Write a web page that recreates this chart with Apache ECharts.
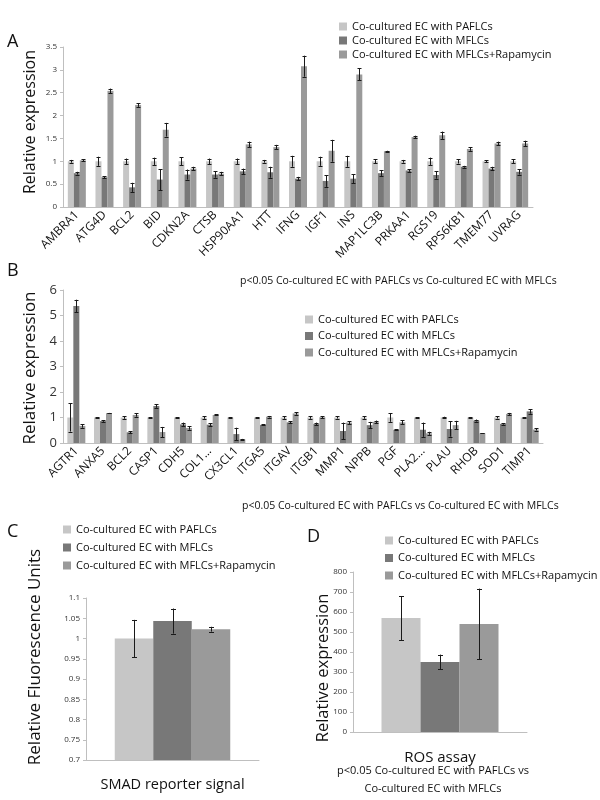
<!DOCTYPE html>
<html>
<head>
<meta charset="utf-8">
<script src="https://cdn.jsdelivr.net/npm/echarts@6/dist/echarts.min.js"></script>
<style>html,body{margin:0;padding:0;background:#fff}#c{width:600px;height:800px}</style>
</head>
<body>
<div id="c"></div>
<script>
// ---------- data ----------
const seriesNames = ['Co-cultured EC with PAFLCs', 'Co-cultured EC with MFLCs', 'Co-cultured EC with MFLCs+Rapamycin'];

// Panel A
const catsA = ['AMBRA1','ATG4D','BCL2','BID','CDKN2A','CTSB','HSP90AA1','HTT','IFNG','IGF1','INS','MAP1LC3B','PRKAA1','RGS19','RPS6KB1','TMEM77','UVRAG'];
const pafA    = [1,1,1,1,1,1,1,1,1,1,1,1,1,1,1,1,1];
const pafAErr = [0.03,0.1,0.06,0.08,0.09,0.06,0.06,0.03,0.12,0.1,0.12,0.04,0.03,0.08,0.05,0.02,0.04];
const mflA    = [0.74,0.65,0.43,0.6,0.71,0.71,0.78,0.76,0.62,0.57,0.62,0.74,0.8,0.7,0.88,0.84,0.77];
const mflAErr = [0.03,0.02,0.1,0.23,0.11,0.07,0.06,0.12,0.04,0.13,0.1,0.06,0.03,0.08,0.02,0.04,0.06];
const rapA    = [1.02,2.54,2.23,1.69,0.84,0.73,1.37,1.31,3.08,1.23,2.9,1.22,1.53,1.57,1.27,1.39,1.39];
const rapAErr = [0.02,0.05,0.04,0.15,0.04,0.04,0.06,0.05,0.23,0.24,0.13,0.01,0.03,0.08,0.04,0.04,0.06];
const yTicksA = [0,0.5,1,1.5,2,2.5,3,3.5];

// Panel B
const catsB = ['AGTR1','ANXA5','BCL2','CASP1','CDH5','COL1...','CX3CL1','ITGA5','ITGAV','ITGB1','MMP1','NPPB','PGF','PLA2...','PLAU','RHOB','SOD1','TIMP1'];
const pafB    = [1,1,1,1,1,1,1,1,1,1,1,1,1,1,1,1,1,1];
const pafBErr = [0.55,0.02,0.05,0.02,0.01,0.05,0.02,0.02,0.05,0.05,0.04,0.05,0.17,0.01,0.03,0.02,0.04,0.02];
const mflB    = [5.37,0.86,0.42,1.45,0.73,0.72,0.35,0.71,0.81,0.75,0.47,0.7,0.52,0.52,0.55,0.88,0.75,1.24];
const mflBErr = [0.25,0.03,0.04,0.07,0.07,0.05,0.25,0.02,0.04,0.05,0.33,0.13,0.02,0.28,0.3,0.04,0.03,0.09];
const rapB    = [0.67,1.17,1.1,0.43,0.59,1.1,0.14,1.03,1.16,1.01,0.8,0.83,0.81,0.38,0.7,0.38,1.14,0.53];
const rapBErr = [0.07,0.01,0.07,0.2,0.07,0.02,0.02,0.03,0.05,0.04,0.06,0.05,0.08,0.06,0.17,0,0.04,0.04];
const yTicksB = [0,1,2,3,4,5,6];

// Panel C
const catsC = ['SMAD reporter signal'];
const pafC = [1.0],   pafCErr = [0.046];
const mflC = [1.043], mflCErr = [0.031];
const rapC = [1.023], rapCErr = [0.006];
const yTicksC = [0.7,0.75,0.8,0.85,0.9,0.95,1,1.05,1.1];

// Panel D
const catsD = ['ROS assay'];
const pafD = [570], pafDErr = [110];
const mflD = [350], mflDErr = [37];
const rapD = [540], rapDErr = [177];
const yTicksD = [0,100,200,300,400,500,600,700,800];

// ---------- styles ----------
const FONT = 'Open Sans';
const colors = ['#c6c6c6', '#787878', '#9a9a9a'];
const axisGray = '#bfbfbf';

const panels = [
  {cats: catsA, vals: [pafA, mflA, rapA], errs: [pafAErr, mflAErr, rapAErr], ticks: yTicksA,
   grid: {left: 63, top: 47, width: 470, height: 160}, barW: 6, tickFont: 8, catFont: 12, rotate: 45, catMargin: 6, cap: 2},
  {cats: catsB, vals: [pafB, mflB, rapB], errs: [pafBErr, mflBErr, rapBErr], ticks: yTicksB,
   grid: {left: 63, top: 290, width: 480, height: 153}, barW: 6, tickFont: 13, catFont: 12, rotate: 45, catMargin: 6, cap: 2},
  {cats: catsC, vals: [pafC, mflC, rapC], errs: [pafCErr, mflCErr, rapCErr], ticks: yTicksC,
   grid: {left: 86, top: 598, width: 173, height: 162}, barW: 38.5, tickFont: 8, catFont: 14.5, rotate: 0, catMargin: 17, cap: 2.5},
  {cats: catsD, vals: [pafD, mflD, rapD], errs: [pafDErr, mflDErr, rapDErr], ticks: yTicksD,
   grid: {left: 353, top: 572, width: 174, height: 160}, barW: 39, tickFont: 8, catFont: 15, rotate: 0, catMargin: 18, cap: 2.5}
];

const grids = [], xAxes = [], yAxes = [], series = [];
panels.forEach((p, pi) => {
  grids.push(Object.assign({}, p.grid));
  xAxes.push({
    type: 'category', gridIndex: pi, data: p.cats,
    axisLine: {lineStyle: {color: axisGray, width: 1}},
    axisTick: {show: false},
    axisLabel: {interval: 0, rotate: p.rotate, margin: p.catMargin, fontFamily: FONT, fontSize: p.catFont, color: '#111'}
  });
  const t = p.ticks;
  yAxes.push({
    type: 'value', gridIndex: pi, min: t[0], max: t[t.length - 1], interval: t[1] - t[0],
    axisLine: {show: true, lineStyle: {color: axisGray, width: 1}},
    axisTick: {show: true, length: 3, lineStyle: {color: axisGray}},
    splitLine: {show: false},
    axisLabel: {fontFamily: FONT, fontSize: p.tickFont, color: '#333', margin: 6,
      formatter: v => String(Math.round(v * 100) / 100)}
  });
  p.vals.forEach((arr, si) => {
    series.push({
      type: 'bar', name: seriesNames[si], xAxisIndex: pi, yAxisIndex: pi,
      data: arr, barWidth: p.barW, barGap: '0%', itemStyle: {color: colors[si]},
      clip: true, z: 2
    });
  });
  p.vals.forEach((arr, si) => {
    const offset = (si - 1) * p.barW;
    const cap = p.cap;
    series.push({
      type: 'custom', name: 'err' + pi + '_' + si, xAxisIndex: pi, yAxisIndex: pi,
      data: arr.map((v, i) => [i, v, p.errs[si][i]]),
      encode: {x: 0, y: 1}, z: 5, silent: true,
      renderItem: (params, api) => {
        const i = api.value(0), v = api.value(1), e = api.value(2);
        const hi = api.coord([i, v + e]);
        const lo = api.coord([i, v - e]);
        const x = Math.round(hi[0] + offset) + 0.5;
        const st = {stroke: '#1a1a1a', lineWidth: 1};
        return {type: 'group', children: [
          {type: 'line', shape: {x1: x, y1: hi[1], x2: x, y2: lo[1]}, style: st},
          {type: 'line', shape: {x1: x - cap, y1: Math.round(hi[1]) + 0.5, x2: x + cap, y2: Math.round(hi[1]) + 0.5}, style: st},
          {type: 'line', shape: {x1: x - cap, y1: Math.round(lo[1]) + 0.5, x2: x + cap, y2: Math.round(lo[1]) + 0.5}, style: st}
        ]};
      }
    });
  });
});

const legendBase = {
  orient: 'vertical', icon: 'rect', itemWidth: 8, itemHeight: 8, padding: 0,
  data: seriesNames, selectedMode: false,
  textStyle: {fontFamily: FONT, fontSize: 11, color: '#111'}
};
const legends = [
  Object.assign({}, legendBase, {left: 339, top: 21, itemGap: 3}),
  Object.assign({}, legendBase, {left: 305, top: 314, itemGap: 5.5}),
  Object.assign({}, legendBase, {left: 63, top: 524, itemGap: 7}),
  Object.assign({}, legendBase, {left: 385, top: 535, itemGap: 6.5})
];

function txt(text, x, y, size, opts) {
  opts = opts || {};
  return {
    type: 'text', x: x, y: y, rotation: opts.rot || 0, silent: true,
    style: {text: text, fontFamily: FONT, fontSize: size, fill: '#111',
      align: opts.align || 'left', verticalAlign: opts.va || 'middle'}
  };
}
const R = Math.PI / 2;
const graphics = [
  txt('A', 7, 42, 18), txt('B', 7, 271, 18), txt('C', 7, 532, 18), txt('D', 307, 537, 18),
  txt('Relative expression', 30, 122, 16, {rot: R, align: 'center'}),
  txt('Relative expression', 30, 368, 17, {rot: R, align: 'center'}),
  txt('Relative Fluorescence Units', 35, 657, 17, {rot: R, align: 'center'}),
  txt('Relative expression', 323, 668, 16.5, {rot: R, align: 'center'}),
  txt('p<0.05 Co-cultured EC with PAFLCs vs Co-cultured EC with MFLCs', 240, 281, 10.5),
  txt('p<0.05 Co-cultured EC with PAFLCs vs Co-cultured EC with MFLCs', 242, 506, 10.5),
  txt('p<0.05 Co-cultured EC with PAFLCs vs', 433, 771, 11, {align: 'center'}),
  txt('Co-cultured EC with MFLCs', 433, 789, 11, {align: 'center'})
];

const chart = echarts.init(document.getElementById('c'), null, {renderer: 'canvas'});
chart.setOption({
  animation: false,
  backgroundColor: '#ffffff',
  grid: grids, xAxis: xAxes, yAxis: yAxes,
  legend: legends, series: series, graphic: graphics
});
</script>
</body>
</html>
